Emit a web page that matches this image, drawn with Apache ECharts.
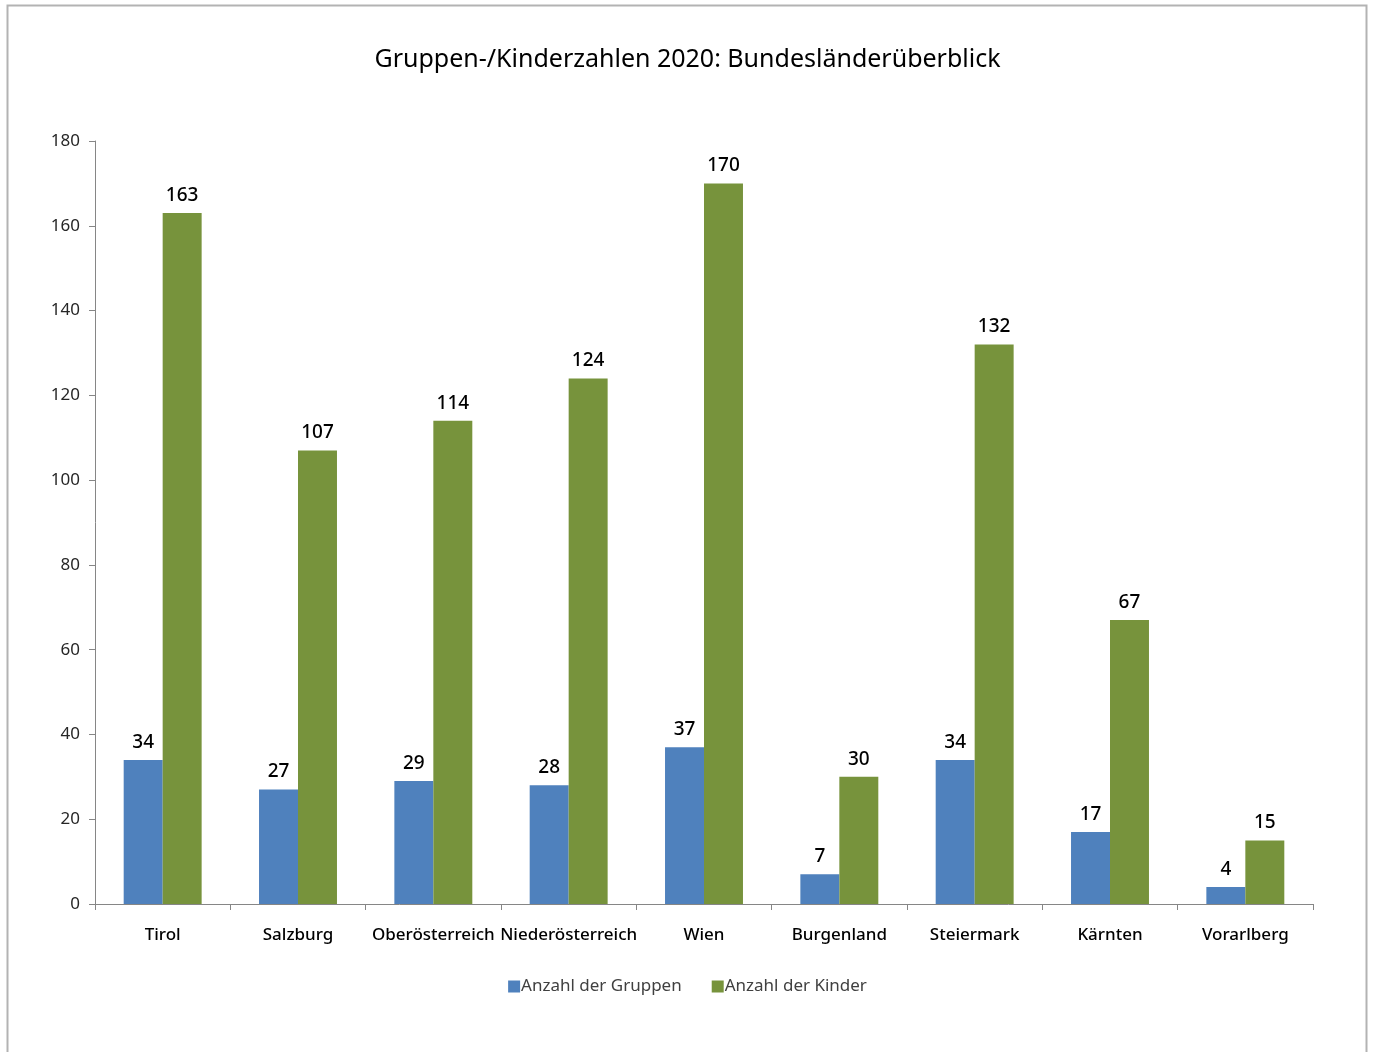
<!DOCTYPE html>
<html>
<head>
<meta charset="utf-8">
<script src="https://cdn.jsdelivr.net/npm/echarts@6/dist/echarts.min.js"></script>
<style>
  html, body { margin: 0; padding: 0; background: #fff; }
  #chart { width: 1375px; height: 1052px; }
</style>
</head>
<body>
<div id="chart"></div>
<script>
const laender = ['Tirol', 'Salzburg', 'Oberösterreich', 'Niederösterreich', 'Wien', 'Burgenland', 'Steiermark', 'Kärnten', 'Vorarlberg'];
const gruppen = [34, 27, 29, 28, 37, 7, 34, 17, 4];
const kinder = [163, 107, 114, 124, 170, 30, 132, 67, 15];

const font = '"Noto Sans", sans-serif';

const labelStyle = {
  show: true,
  position: 'top',
  distance: 8,
  color: '#000',
  fontSize: 19,
  fontFamily: font,
  fontWeight: 500
};

const chart = echarts.init(document.getElementById('chart'));
chart.setOption({
  backgroundColor: '#fff',
  animation: false,
  title: {
    text: 'Gruppen-/Kinderzahlen 2020: Bundesländerüberblick',
    left: 'center',
    top: 42,
    textStyle: { fontFamily: font, fontSize: 25, fontWeight: 'normal', color: '#000' }
  },
  graphic: [{
    type: 'rect',
    shape: { x: 7.5, y: 5.5, width: 1359, height: 1100 },
    style: { fill: 'none', stroke: '#b3b3b3', lineWidth: 2 },
    silent: true
  }],
  legend: {
    bottom: 52,
    left: 'center',
    itemWidth: 12,
    itemHeight: 12,
    itemGap: 30,
    icon: 'rect',
    textStyle: { fontFamily: font, fontSize: 17, color: '#404040', padding: [0, 0, 0, -4] },
    data: ['Anzahl der Gruppen', 'Anzahl der Kinder']
  },
  grid: { left: 95, right: 62, top: 141, bottom: 148 },
  xAxis: {
    type: 'category',
    data: laender,
    axisLine: { lineStyle: { color: '#868686', width: 1 } },
    axisTick: { show: true, length: 6, lineStyle: { color: '#868686' } },
    axisLabel: { color: '#000', fontFamily: font, fontSize: 17, fontWeight: 500, margin: 23, interval: 0 }
  },
  yAxis: {
    type: 'value',
    min: 0,
    max: 180,
    interval: 20,
    axisLine: { show: true, lineStyle: { color: '#868686', width: 1 } },
    axisTick: { show: true, length: 6, lineStyle: { color: '#868686' } },
    splitLine: { show: false },
    axisLabel: { color: '#262626', fontFamily: font, fontSize: 17, margin: 15 }
  },
  series: [
    {
      name: 'Anzahl der Gruppen',
      type: 'bar',
      data: gruppen,
      barGap: '0%',
      barCategoryGap: '42.4%',
      itemStyle: { color: '#4f81bd' },
      label: labelStyle
    },
    {
      name: 'Anzahl der Kinder',
      type: 'bar',
      data: kinder,
      itemStyle: { color: '#77933c' },
      label: labelStyle
    }
  ]
});
</script>
</body>
</html>
